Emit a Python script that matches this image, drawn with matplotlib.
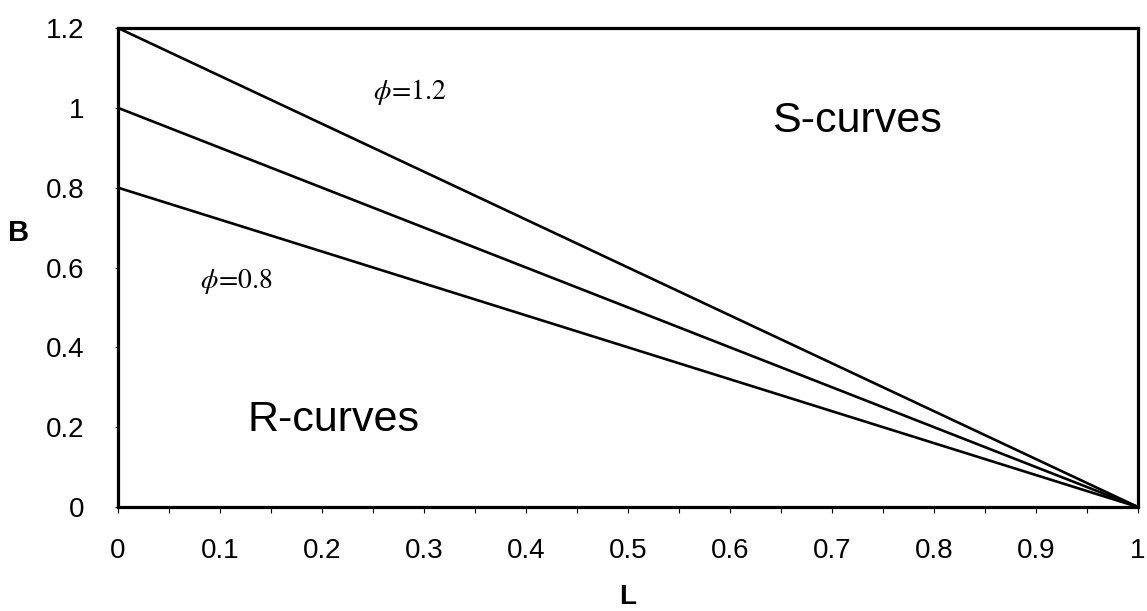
import matplotlib
matplotlib.use("Agg")
import matplotlib.pyplot as plt
from matplotlib.ticker import MultipleLocator

plt.rcParams["font.family"] = ["Liberation Sans", "DejaVu Sans"]
plt.rcParams["mathtext.fontset"] = "stix"

# L values and B
L = [0.0, 0.1, 0.2, 0.3, 0.4, 0.5, 0.6, 0.7, 0.8, 0.9, 1.0]
B_phi12 = [1.2, 1.08, 0.96, 0.84, 0.72, 0.60, 0.48, 0.36, 0.24, 0.12, 0.0]
B_phi10 = [1.0, 0.90, 0.80, 0.70, 0.60, 0.50, 0.40, 0.30, 0.20, 0.10, 0.0]
B_phi08 = [0.8, 0.72, 0.64, 0.56, 0.48, 0.40, 0.32, 0.24, 0.16, 0.08, 0.0]

X_TICKS = [0, 0.1, 0.2, 0.3, 0.4, 0.5, 0.6, 0.7, 0.8, 0.9, 1]
X_LABELS = ["0", "0.1", "0.2", "0.3", "0.4", "0.5", "0.6", "0.7", "0.8", "0.9", "1"]
Y_TICKS = [0, 0.2, 0.4, 0.6, 0.8, 1.0, 1.2]
Y_LABELS = ["0", "0.2", "0.4", "0.6", "0.8", "1", "1.2"]

W, H = 1147, 611
fig = plt.figure(figsize=(W / 100, H / 100), dpi=100)
ax = fig.add_axes([118 / W, (H - 507) / H, (1138 - 118) / W, (507 - 28) / H])

for b in (B_phi12, B_phi10, B_phi08):
    ax.plot(L, b, color="black", lw=1.9, solid_capstyle="butt")

ax.set_xlim(0, 1)
ax.set_ylim(0, 1.2)

ax.set_xticks(X_TICKS)
ax.set_xticklabels(X_LABELS, fontsize=20)
ax.set_yticks(Y_TICKS)
ax.set_yticklabels(Y_LABELS, fontsize=20)
ax.xaxis.set_minor_locator(MultipleLocator(0.05))

ax.tick_params(axis="x", which="both", direction="out", length=4, width=0.8, pad=18)
ax.tick_params(axis="y", which="major", direction="out", length=2, width=0.8, pad=22)

for s in ax.spines.values():
    s.set_linewidth(2.3)

ax.set_xlabel("L", fontsize=20, fontweight="bold", va="center")
ax.xaxis.set_label_coords(0.5, -0.188)
ax.set_ylabel("B", fontsize=21, fontweight="bold", rotation=0, va="center", ha="center")
ax.yaxis.set_label_coords(-0.097, 0.572)

ax.text(0.286, 1.040, r"$\phi\!=\!1.2$", fontsize=20, ha="center", va="center")
ax.text(0.116, 0.564, r"$\phi\!=\!0.8$", fontsize=20, ha="center", va="center")
ax.text(0.724, 0.967, "S-curves", fontsize=31, ha="center", va="center")
ax.text(0.211, 0.218, "R-curves", fontsize=31, ha="center", va="center")

fig.savefig("out.png", dpi=100)
